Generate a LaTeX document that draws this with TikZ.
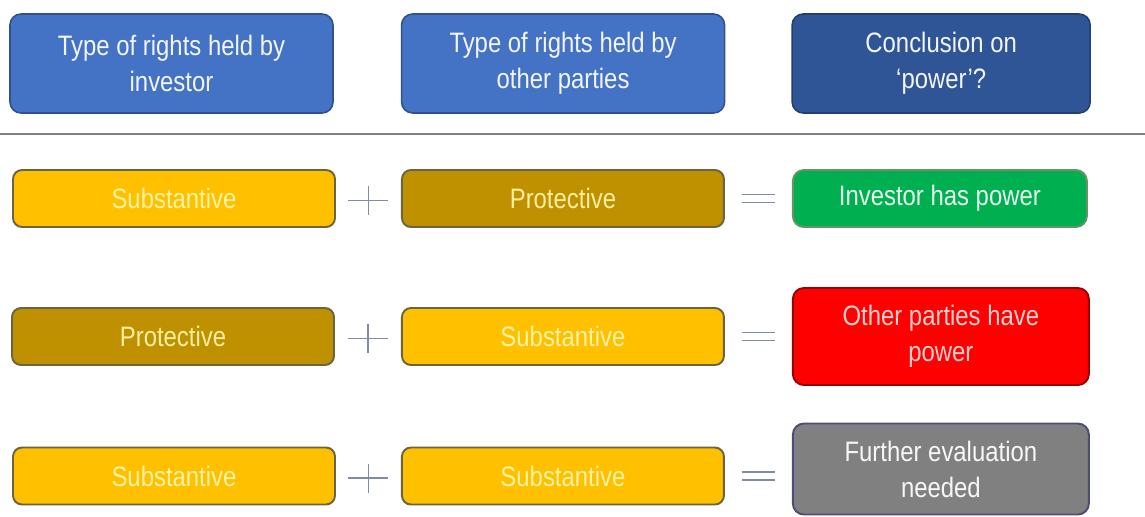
\documentclass[tikz,border=0pt]{standalone}
\usepackage{fontspec}
\setmainfont[FakeStretch=0.85]{Liberation Sans}
\usepackage{tikz}
\usetikzlibrary{positioning,calc}
\usepackage{xcolor}
\definecolor{hdrblue}{HTML}{4472C4}
\definecolor{hdrline}{HTML}{2F528F}
\definecolor{darkblue}{HTML}{2F5597}
\definecolor{darkline}{HTML}{223F73}
\definecolor{substfill}{HTML}{FFC000}
\definecolor{substtext}{HTML}{FFF3A6}
\definecolor{protfill}{HTML}{BF9000}
\definecolor{prottext}{HTML}{FFEFA0}
\definecolor{boxline}{HTML}{6A6440}
\definecolor{powgreen}{HTML}{00B050}
\definecolor{powred}{HTML}{FF0000}
\definecolor{evalgray}{HTML}{808080}
\definecolor{signcol}{HTML}{7F8CA3}
\definecolor{rulegray}{HTML}{7F7F7F}

\begin{document}
\begin{tikzpicture}[scale=1]
    \tikzstyle{header} = [draw=hdrline,fill=hdrblue,rectangle,rounded corners=0.22cm,line width=0.9pt,minimum width=6.46cm,minimum height=1.98cm,align=center,text=white!93!hdrblue,font=\fontsize{16}{20.5}\selectfont]
    \tikzstyle{rightsbox} = [draw=boxline,rectangle,rounded corners=0.18cm,line width=1.1pt,minimum width=6.44cm,minimum height=1.14cm,font=\fontsize{16}{20.5}\selectfont]
    \tikzstyle{subst} = [rightsbox,fill=substfill,text=substtext]
    \tikzstyle{prot} = [rightsbox,fill=protfill,text=prottext]
    \tikzstyle{result} = [rectangle,rounded corners=0.22cm,line width=1.1pt,minimum width=5.92cm,minimum height=1.14cm,align=center,font=\fontsize{16}{20.5}\selectfont]
    \tikzstyle{sign} = [draw=signcol,line width=0.7pt]
    \useasboundingbox (0,0) rectangle (22.9,-10.32);
    % column headers
    \node[header] (hinvestor) at (3.43,-1.27) {Type of rights held by\\investor};
    \node[header] (hothers) [right = 1.34cm of hinvestor] {Type of rights held by\\other parties};
    \node[header,fill=darkblue,draw=darkline,minimum width=5.96cm] (hpower) [right = 1.32cm of hothers] {Conclusion on\\‘power’?};
    \coordinate (ruleL) at (0,-2.68);
    \coordinate (ruleR) at (22.9,-2.68);
    \draw[rulegray,line width=1pt] (ruleL) -- (ruleR);
    % row 1
    \node[subst] (sub1) at (3.48,-3.97) {Substantive};
    \node[prot] (prot1) [right = 1.3cm of sub1] {Protective};
    \node[result,fill=powgreen,draw=green!30!black!60,text=white!90!powgreen,minimum width=5.88cm] (res1) [right = 1.34cm of prot1] {Investor has power};
    % row 2
    \node[prot] (prot2) at (3.46,-6.73) {Protective};
    \node[subst] (sub2) [right = 1.32cm of prot2] {Substantive};
    \node[result,fill=powred,draw=red!60!black,text=red!18!white,minimum height=1.94cm] (res2) [right = 1.34cm of sub2] {Other parties have\\power};
    % row 3
    \node[subst] (sub3) at (3.48,-9.52) {Substantive};
    \node[subst] (sub4) [right = 1.3cm of sub3] {Substantive};
    \node[result,fill=evalgray,draw=blue!25!black!70,text=white!94!evalgray,minimum height=1.82cm] (res3) [right = 1.34cm of sub4, yshift=0.14cm] {Further evaluation\\needed};
    % plus and equals signs
    \foreach \a/\b/\n in {sub1/prot1/1,prot2/sub2/2,sub3/sub4/3} {
        \coordinate (plus\n) at ($(\a.east)!0.5!(\b.west)$);
        \draw[sign] ([xshift=-0.4cm,yshift=-0.04cm]plus\n) -- ([xshift=0.4cm,yshift=-0.04cm]plus\n)
                    ([yshift=-0.33cm]plus\n) -- ([yshift=0.25cm]plus\n);
    }
    \foreach \a/\b/\n in {prot1/res1/1,sub2/res2/2,sub4/res3/3} {
        \coordinate (eq\n) at ($(\a.east)!0.5!(\b.west|-\a.east)$);
        \draw[sign] ([xshift=-0.33cm,yshift=0.08cm]eq\n) -- ([xshift=0.33cm,yshift=0.08cm]eq\n)
                    ([xshift=-0.33cm,yshift=-0.08cm]eq\n) -- ([xshift=0.33cm,yshift=-0.08cm]eq\n);
    }
\end{tikzpicture}
\end{document}
